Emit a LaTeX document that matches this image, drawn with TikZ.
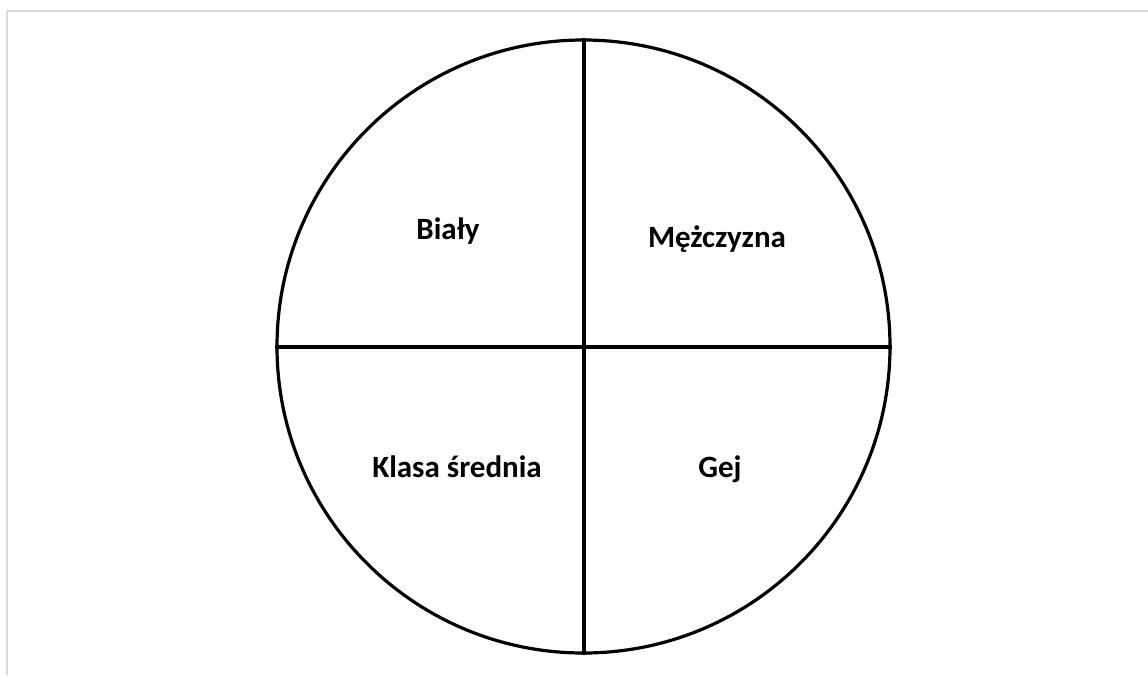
\documentclass[tikz,border=0pt]{standalone}
\usepackage{fontspec}
\setmainfont{Carlito}
\begin{document}
\begin{tikzpicture}[x=1pt,y=-1pt,
  frameline/.style={draw={rgb,255:red,217;green,217;blue,217},line width=2pt},
  divline/.style={draw=black,line width=4pt},
  ringline/.style={draw=black,line width=3.2pt},
  lbl/.style={font=\bfseries\fontsize{31}{36}\selectfont,anchor=base}]
\useasboundingbox (0,0) rectangle (1148,675);
\coordinate (fTR) at (1148,10.5);
\coordinate (fTL) at (7,10.5);
\coordinate (fBL) at (7,675);
\draw[frameline] (fTR) -- (fTL) -- (fBL);
\coordinate (c) at (583.5,346.5);
\node[ringline,circle,minimum size=613pt,inner sep=0pt] (ring) at (c) {};
\draw[divline] (ring.north) -- (ring.south);
\draw[divline] (ring.west) -- (ring.east);
\node[lbl] (a) at (448,239) {Biały};
\node[lbl] (b) at (717,247) {Mężczyzna};
\node[lbl] (d) at (457,477) {Klasa średnia};
\node[lbl] (e) at (720,477) {Gej};
\end{tikzpicture}
\end{document}
